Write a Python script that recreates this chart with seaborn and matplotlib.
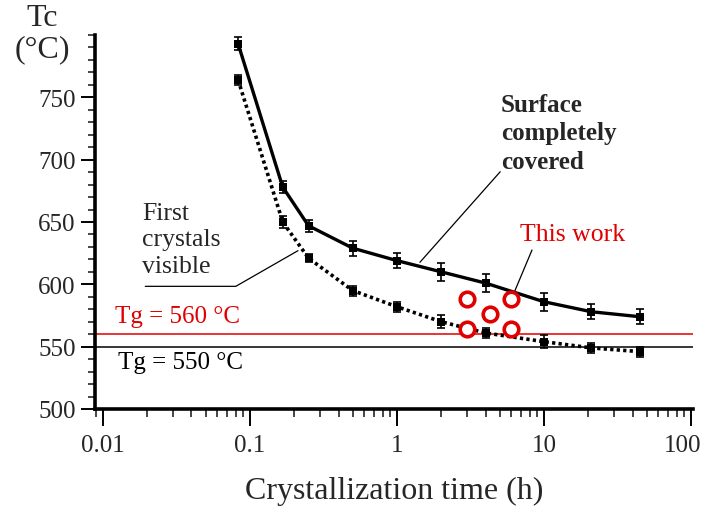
import seaborn as sns
import pandas as pd
import numpy as np
import matplotlib.pyplot as plt
from matplotlib.transforms import ScaledTranslation
from matplotlib.ticker import LogLocator, FixedLocator, MultipleLocator, FuncFormatter, NullFormatter


# crystallization times (h)
time_h = [0.083, 0.167, 0.25, 0.5, 1, 2, 4, 10, 21, 45]
# surface completely covered
tc_covered = [793, 678, 647, 629, 619, 610, 601, 586, 578, 574]
err_covered = [5, 5, 5, 6, 6, 7, 7, 7, 6, 6]
# first crystals visible
tc_first = [764, 650, 621, 595, 582, 570, 561, 554, 549, 546]
err_first = [4, 5, 3, 4, 4, 5, 4, 5, 4, 4]
# this work
work_time = [3, 6, 4.3, 3, 6]
work_tc = [588, 588, 576, 564, 564]
# glass transition lines
tg_values = [560, 550]
tg_colors = ['#e00000', 'black']
tg_labels = ['Tg = 560 °C', 'Tg = 550 °C']

df = pd.DataFrame({'time': time_h, 'covered': tc_covered, 'first': tc_first,
                   'err_covered': err_covered, 'err_first': err_first})
work = pd.DataFrame({'time': work_time, 'tc': work_tc})

sns.set_theme(style="ticks")
plt.rcParams['font.family'] = ['Liberation Serif', 'DejaVu Serif']

fig = plt.figure(figsize=(7.04, 5.10), dpi=100)
ax = fig.add_axes([95 / 704, 1 - 410 / 510, (693 - 95) / 704, (410 - 36) / 510])
ax.set_xscale('log')

# reference lines
for val, col in zip(tg_values, tg_colors):
    ax.axhline(val, color=col, lw=1.1, zorder=1)

# data series
sns.lineplot(data=df, x='time', y='covered', ax=ax, color='black', lw=2.4,
             marker='s', markersize=6, markeredgewidth=0, zorder=3)
sns.lineplot(data=df, x='time', y='first', ax=ax, color='black', lw=2.6,
             linestyle=(0, (0.9, 0.9)), marker='s', markersize=6,
             markeredgewidth=0, zorder=3)
ax.errorbar(df['time'], df['covered'], yerr=df['err_covered'], fmt='none',
            ecolor='black', elinewidth=1.2, capsize=3, capthick=1.2, zorder=3)
ax.errorbar(df['time'], df['first'], yerr=df['err_first'], fmt='none',
            ecolor='black', elinewidth=1.2, capsize=3, capthick=1.2, zorder=3)
sns.scatterplot(data=work, x='time', y='tc', ax=ax, marker='o', s=110,
                facecolor='white', edgecolor='#e00000', linewidth=2.6, zorder=4)

ax.set_xlim(0.00883, 103)
ax.set_ylim(500, 800)

# ticks
ax.xaxis.set_major_locator(FixedLocator([0.01, 0.1, 1, 10, 100]))
ax.xaxis.set_major_formatter(FuncFormatter(lambda v, p: f'{v:g}'))
ax.xaxis.set_minor_locator(LogLocator(base=10, subs=np.arange(2, 10)))
ax.xaxis.set_minor_formatter(NullFormatter())
ax.set_yticks([500, 550, 600, 650, 700, 750])
ax.yaxis.set_minor_locator(MultipleLocator(10))
ax.tick_params(axis='both', which='major', labelsize=18, width=1.4, color='black')
ax.tick_params(axis='x', which='major', length=12, pad=6)
ax.tick_params(axis='x', which='minor', length=6, width=1.2)
ax.tick_params(axis='y', which='major', length=10, pad=4)
ax.tick_params(axis='y', which='minor', length=5, width=1.2)

# nudge the last x label so it stays inside the picture
fig.canvas.draw()
last = ax.get_xticklabels()[-1]
last.set_transform(last.get_transform() + ScaledTranslation(-6 / 72, 0, fig.dpi_scale_trans))

sns.despine(ax=ax)
for side in ['left', 'bottom']:
    ax.spines[side].set_linewidth(2.6)
    ax.spines[side].set_color('black')

ax.set_xlabel('Crystallization time (h)', fontsize=23, labelpad=14)
ax.set_ylabel('')
fig.text(42 / 704, 1 - 18 / 510, 'Tc', fontsize=23, ha='center', va='center')
fig.text(42 / 704, 1 - 50 / 510, '(°C)', fontsize=23, ha='center', va='center')

# labels for Tg lines
ax.text(0.0121, 574.5, tg_labels[0], color='#e00000', fontsize=18, va='center')
ax.text(0.0126, 538, tg_labels[1], color='black', fontsize=18, va='center')

# annotations
ax.text(5.1, 721.5, 'Surface\ncompletely\ncovered', fontsize=18, fontweight='bold',
        va='center', ha='left', linespacing=1.3)
ax.annotate('', xy=(1.39, 616), xytext=(5.18, 692),
            arrowprops=dict(arrowstyle='-', color='black', lw=0.9))

ax.text(0.0184, 636, 'First\ncrystals\nvisible', fontsize=18.5, va='center',
        ha='left', linespacing=1.25)
ax.plot([0.0194, 0.0801, 0.212], [598.4, 598.4, 627], color='black', lw=0.9)

ax.text(6.87, 640, 'This work', color='#e00000', fontsize=18.5, va='center', ha='left')
ax.annotate('', xy=(5.87, 585.6), xytext=(8.42, 629.6),
            arrowprops=dict(arrowstyle='-', color='black', lw=0.9))

fig.savefig('out.png', dpi=100)
